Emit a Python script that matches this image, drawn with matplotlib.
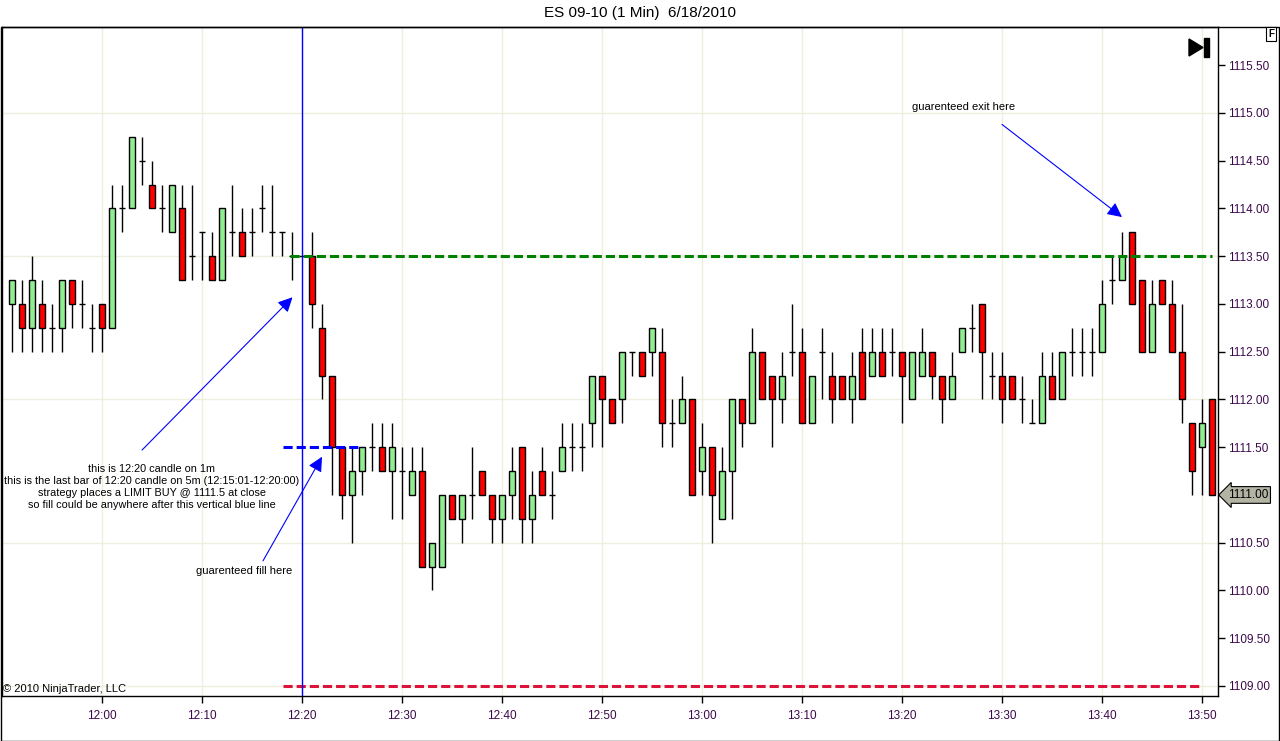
import matplotlib
matplotlib.use("Agg")
import matplotlib.pyplot as plt
from matplotlib.patches import Rectangle, Polygon
import matplotlib.transforms as mtransforms
import numpy as np

plt.rcParams['font.family'] = ['Liberation Sans', 'DejaVu Sans']

# 1-minute bars, ES 09-10, 11:51 .. 13:51 (minutes relative to 12:00)
minutes = np.arange(-9, 112)
opens = [1113.0, 1113.0, 1112.75, 1113.0, 1112.75, 1112.75, 1113.25, 1113.0, 1112.75, 1113.0,
         1112.75, 1114.0, 1114.0, 1114.5, 1114.25, 1114.0, 1113.75, 1114.0, 1113.5, 1113.75,
         1113.5, 1113.25, 1113.75, 1113.75, 1113.75, 1114.0, 1113.75, 1113.75, 1113.5, 1113.5,
         1113.5, 1112.75, 1112.25, 1111.5, 1111.0, 1111.25, 1111.5, 1111.5, 1111.25, 1111.25,
         1111.0, 1111.25, 1110.25, 1110.25, 1111.0, 1110.75, 1111.0, 1111.25, 1111.0, 1110.75,
         1111.0, 1111.5, 1110.75, 1111.25, 1111.0, 1111.25, 1111.5, 1111.5, 1111.75, 1112.25,
         1112.0, 1112.0, 1112.5, 1112.5, 1112.5, 1112.5, 1111.75, 1111.75, 1112.0, 1111.25,
         1111.5, 1110.75, 1111.25, 1112.0, 1111.75, 1112.5, 1112.25, 1112.0, 1112.5, 1112.5,
         1111.75, 1112.5, 1112.25, 1112.25, 1112.0, 1112.5, 1112.25, 1112.5, 1112.5, 1112.5,
         1112.0, 1112.25, 1112.5, 1112.25, 1112.0, 1112.5, 1112.75, 1113.0, 1112.25, 1112.25,
         1112.25, 1112.0, 1111.75, 1111.75, 1112.25, 1112.0, 1112.5, 1112.5, 1112.5, 1112.5,
         1113.25, 1113.25, 1113.75, 1113.25, 1112.5, 1113.25, 1113.0, 1112.5, 1111.75, 1111.5,
         1112.0]
highs = [1113.25, 1113.25, 1113.5, 1113.25, 1113.0, 1113.25, 1113.25, 1113.25, 1113.0, 1113.0,
         1114.25, 1114.25, 1114.75, 1114.75, 1114.5, 1114.25, 1114.25, 1114.25, 1114.25, 1113.75,
         1113.75, 1114.0, 1114.25, 1114.0, 1114.0, 1114.25, 1114.25, 1113.75, 1113.75, 1113.5,
         1113.75, 1113.0, 1112.25, 1111.5, 1111.5, 1111.5, 1111.75, 1111.75, 1111.75, 1111.5,
         1111.5, 1111.5, 1110.5, 1111.0, 1111.0, 1111.0, 1111.5, 1111.25, 1111.0, 1111.0,
         1111.5, 1111.5, 1111.25, 1111.5, 1111.25, 1111.75, 1111.75, 1111.75, 1112.25, 1112.25,
         1112.0, 1112.5, 1112.5, 1112.5, 1112.75, 1112.75, 1112.0, 1112.25, 1112.0, 1111.75,
         1111.5, 1111.5, 1112.0, 1112.0, 1112.75, 1112.5, 1112.25, 1112.5, 1113.0, 1112.75,
         1112.25, 1112.75, 1112.5, 1112.25, 1112.5, 1112.75, 1112.75, 1112.75, 1112.75, 1112.5,
         1112.5, 1112.75, 1112.5, 1112.25, 1112.5, 1112.75, 1113.0, 1113.0, 1112.5, 1112.5,
         1112.25, 1112.25, 1112.0, 1112.5, 1112.5, 1112.5, 1112.75, 1112.75, 1112.75, 1113.25,
         1113.5, 1113.75, 1113.75, 1113.25, 1113.25, 1113.25, 1113.25, 1113.0, 1111.75, 1112.0,
         1112.0]
lows = [1112.5, 1112.5, 1112.5, 1112.5, 1112.5, 1112.5, 1112.75, 1112.75, 1112.5, 1112.5,
        1112.75, 1113.75, 1114.0, 1114.25, 1114.0, 1113.75, 1113.75, 1113.25, 1113.25, 1113.25,
        1113.25, 1113.25, 1113.5, 1113.5, 1113.5, 1113.75, 1113.5, 1113.5, 1113.25, 1113.5,
        1112.75, 1112.0, 1111.0, 1110.75, 1110.5, 1111.0, 1111.25, 1111.25, 1110.75, 1110.75,
        1111.0, 1110.25, 1110.0, 1110.25, 1110.75, 1110.5, 1110.75, 1111.0, 1110.5, 1110.5,
        1110.75, 1110.5, 1110.5, 1111.0, 1110.75, 1111.25, 1111.25, 1111.25, 1111.5, 1111.5,
        1111.75, 1111.75, 1112.25, 1112.25, 1112.25, 1111.5, 1111.5, 1111.75, 1111.0, 1111.0,
        1110.5, 1110.75, 1110.75, 1111.5, 1111.75, 1112.0, 1111.5, 1111.75, 1112.25, 1111.75,
        1111.75, 1112.0, 1111.75, 1112.0, 1111.75, 1112.0, 1112.25, 1112.25, 1112.25, 1111.75,
        1112.0, 1112.25, 1112.0, 1111.75, 1112.0, 1112.5, 1112.5, 1112.0, 1112.0, 1111.75,
        1112.0, 1111.75, 1111.75, 1111.75, 1112.0, 1112.0, 1112.25, 1112.25, 1112.25, 1112.5,
        1113.0, 1113.25, 1113.0, 1112.5, 1112.5, 1113.0, 1112.5, 1111.75, 1111.0, 1111.0,
        1111.0]
closes = [1113.25, 1112.75, 1113.25, 1112.75, 1112.75, 1113.25, 1113.0, 1113.0, 1112.75, 1112.75,
          1114.0, 1114.0, 1114.75, 1114.5, 1114.0, 1114.0, 1114.25, 1113.25, 1113.5, 1113.75,
          1113.25, 1114.0, 1113.75, 1113.5, 1113.75, 1114.0, 1113.75, 1113.75, 1113.5, 1113.5,
          1113.0, 1112.25, 1111.5, 1111.0, 1111.25, 1111.5, 1111.5, 1111.25, 1111.5, 1111.25,
          1111.25, 1110.25, 1110.5, 1111.0, 1110.75, 1111.0, 1111.0, 1111.0, 1110.75, 1111.0,
          1111.25, 1110.75, 1111.0, 1111.0, 1111.0, 1111.5, 1111.5, 1111.5, 1112.25, 1112.0,
          1111.75, 1112.5, 1112.5, 1112.25, 1112.75, 1111.75, 1111.75, 1112.0, 1111.0, 1111.5,
          1111.0, 1111.25, 1112.0, 1111.75, 1112.5, 1112.0, 1112.0, 1112.25, 1112.5, 1111.75,
          1112.25, 1112.5, 1112.0, 1112.0, 1112.25, 1112.0, 1112.5, 1112.25, 1112.5, 1112.25,
          1112.5, 1112.5, 1112.25, 1112.0, 1112.25, 1112.75, 1112.75, 1112.5, 1112.25, 1112.0,
          1112.0, 1112.0, 1111.75, 1112.25, 1112.0, 1112.5, 1112.5, 1112.5, 1112.5, 1113.0,
          1113.25, 1113.5, 1113.0, 1112.5, 1113.0, 1113.0, 1112.5, 1112.0, 1111.25, 1111.75,
          1111.0]

time_ticks = [0, 10, 20, 30, 40, 50, 60, 70, 80, 90, 100, 110]
time_labels = ['12:00', '12:10', '12:20', '12:30', '12:40', '12:50',
               '13:00', '13:10', '13:20', '13:30', '13:40', '13:50']
price_ticks = [1109.0, 1109.5, 1110.0, 1110.5, 1111.0, 1111.5, 1112.0,
               1112.5, 1113.0, 1113.5, 1114.0, 1114.5, 1115.0, 1115.5]
grid_prices = [1109.0, 1110.5, 1112.0, 1113.5, 1115.0]

exit_level = 1113.5
limit_level = 1111.5
stop_level = 1109.0
signal_minute = 20
last_price = 1111.0

label_color = '#3c0a4a'
grid_color = '#efefe0'


def main():
    fig = plt.figure(figsize=(12.8, 7.41), dpi=100)
    ax = fig.add_axes([2 / 1280, 1 - 696 / 741, 1216 / 1280, 669 / 741])
    ax.set_xlim(-10, 111.6)
    ax.set_ylim(1108.895, 1115.9)

    # grid
    for t in time_ticks:
        ax.axvline(t, color=grid_color, lw=1, zorder=0)
    for p in grid_prices:
        ax.axhline(p, color=grid_color, lw=1, zorder=0)

    # candles
    o = np.array(opens)
    h = np.array(highs)
    l = np.array(lows)
    c = np.array(closes)
    width = 0.56
    ax.vlines(minutes, l, h, color='black', lw=1, zorder=2)
    up = c > o
    down = c < o
    flat = c == o
    ax.bar(minutes[up], (c - o)[up], bottom=o[up], width=width,
           color='#90ee90', edgecolor='black', lw=1, zorder=3)
    ax.bar(minutes[down], (o - c)[down], bottom=c[down], width=width,
           color='#ff0000', edgecolor='black', lw=1, zorder=3)
    ax.hlines(o[flat], minutes[flat] - 0.33, minutes[flat] + 0.33,
              color='black', lw=1, zorder=3)

    # drawn lines
    dash = (0, (3, 1.3))
    ax.hlines(exit_level, 18.8, 111, color='#008000', lw=2.2, linestyles=dash, zorder=4)
    ax.hlines(limit_level, 18.1, 26, color='#0000ff', lw=2.2, linestyles=dash, zorder=4)
    ax.hlines(stop_level, 18.1, 110, color='#dc143c', lw=2.2, linestyles=dash, zorder=4)
    ax.axvline(signal_minute, color='#0000ff', lw=1, zorder=5)

    # annotations
    arrow = dict(arrowstyle='-|>', mutation_scale=22, color='#0000ff', lw=0.8,
                 shrinkA=0, shrinkB=0)
    ax.annotate('', xy=(19.05, 1113.07), xytext=(4.0, 1111.47), arrowprops=arrow, zorder=6)
    ax.annotate('', xy=(22.0, 1111.40), xytext=(16.1, 1110.31), arrowprops=arrow, zorder=6)
    ax.annotate('', xy=(102.0, 1113.91), xytext=(90.0, 1114.88), arrowprops=arrow, zorder=6)

    note_lines = ['this is 12:20 candle on 1m',
                  'this is the last bar of 12:20 candle on 5m (12:15:01-12:20:00)',
                  'strategy places a LIMIT BUY @ 1111.5 at close',
                  'so fill could be anywhere after this vertical blue line']
    for i, line in enumerate(note_lines):
        ax.text(5.0, 1111.27 - i * 0.1256, line, ha='center', va='center',
                fontsize=7.8, color='black', zorder=6)
    ax.text(14.2, 1110.2, 'guarenteed fill here', ha='center', va='center',
            fontsize=8, color='black', zorder=6)
    ax.text(86.2, 1115.06, 'guarenteed exit here', ha='center', va='center',
            fontsize=8, color='black', zorder=6)
    ax.text(0.001, 0.0105, '\u00a9 2010 NinjaTrader, LLC', transform=ax.transAxes,
            ha='left', va='center', fontsize=8, color='black', zorder=6)

    # axes look
    ax.yaxis.tick_right()
    ax.set_yticks(price_ticks)
    # the 1111.00 label sits under the last price tag
    ax.set_yticklabels(['' if p == last_price else '%.2f' % p for p in price_ticks])
    ax.set_xticks(time_ticks)
    ax.set_xticklabels(time_labels)
    ax.tick_params(axis='both', colors='black', labelcolor=label_color,
                   labelsize=8.5, length=5, width=1, direction='out')
    ax.tick_params(axis='y', pad=2)
    ax.tick_params(axis='x', pad=5)
    for s in ax.spines.values():
        s.set_color('black')
        s.set_linewidth(1)

    # last price tag
    trans = mtransforms.blended_transform_factory(ax.transAxes, ax.transData)
    ax.text(1.008, last_price, '%.2f' % last_price, transform=trans, ha='left', va='center',
            fontsize=8.5, color='black', zorder=7, clip_on=False,
            bbox=dict(boxstyle='larrow,pad=0.2', fc='#b4b4a4', ec='black', lw=0.8))

    # title and chart decorations
    fig.text(0.5, 1 - 13 / 741, 'ES 09-10 (1 Min)  6/18/2010', ha='center', va='center',
             fontsize=11, color='black')
    fig.patches.append(Rectangle((0.5 / 1280, 0.5 / 741), 1278.5 / 1280, 1 - 27.5 / 741,
                                 transform=fig.transFigure, fill=False, ec='black', lw=1))
    fig.patches.append(Polygon([(1189 / 1280, 1 - 39 / 741), (1189 / 1280, 1 - 56 / 741),
                                (1203 / 1280, 1 - 47.5 / 741)], closed=True,
                               transform=fig.transFigure, fc='black', ec='black'))
    fig.patches.append(Rectangle((1204 / 1280, 1 - 57 / 741), 5 / 1280, 19 / 741,
                                 transform=fig.transFigure, fc='black', ec='black'))
    fig.text(1271 / 1280, 1 - 34 / 741, 'F', ha='center', va='center', fontsize=7,
             fontweight='bold', color='black',
             bbox=dict(boxstyle='square,pad=0.25', fc='white', ec='black', lw=0.8))

    fig.savefig('out.png', dpi=100, facecolor='white')


if __name__ == "__main__":
    main()
